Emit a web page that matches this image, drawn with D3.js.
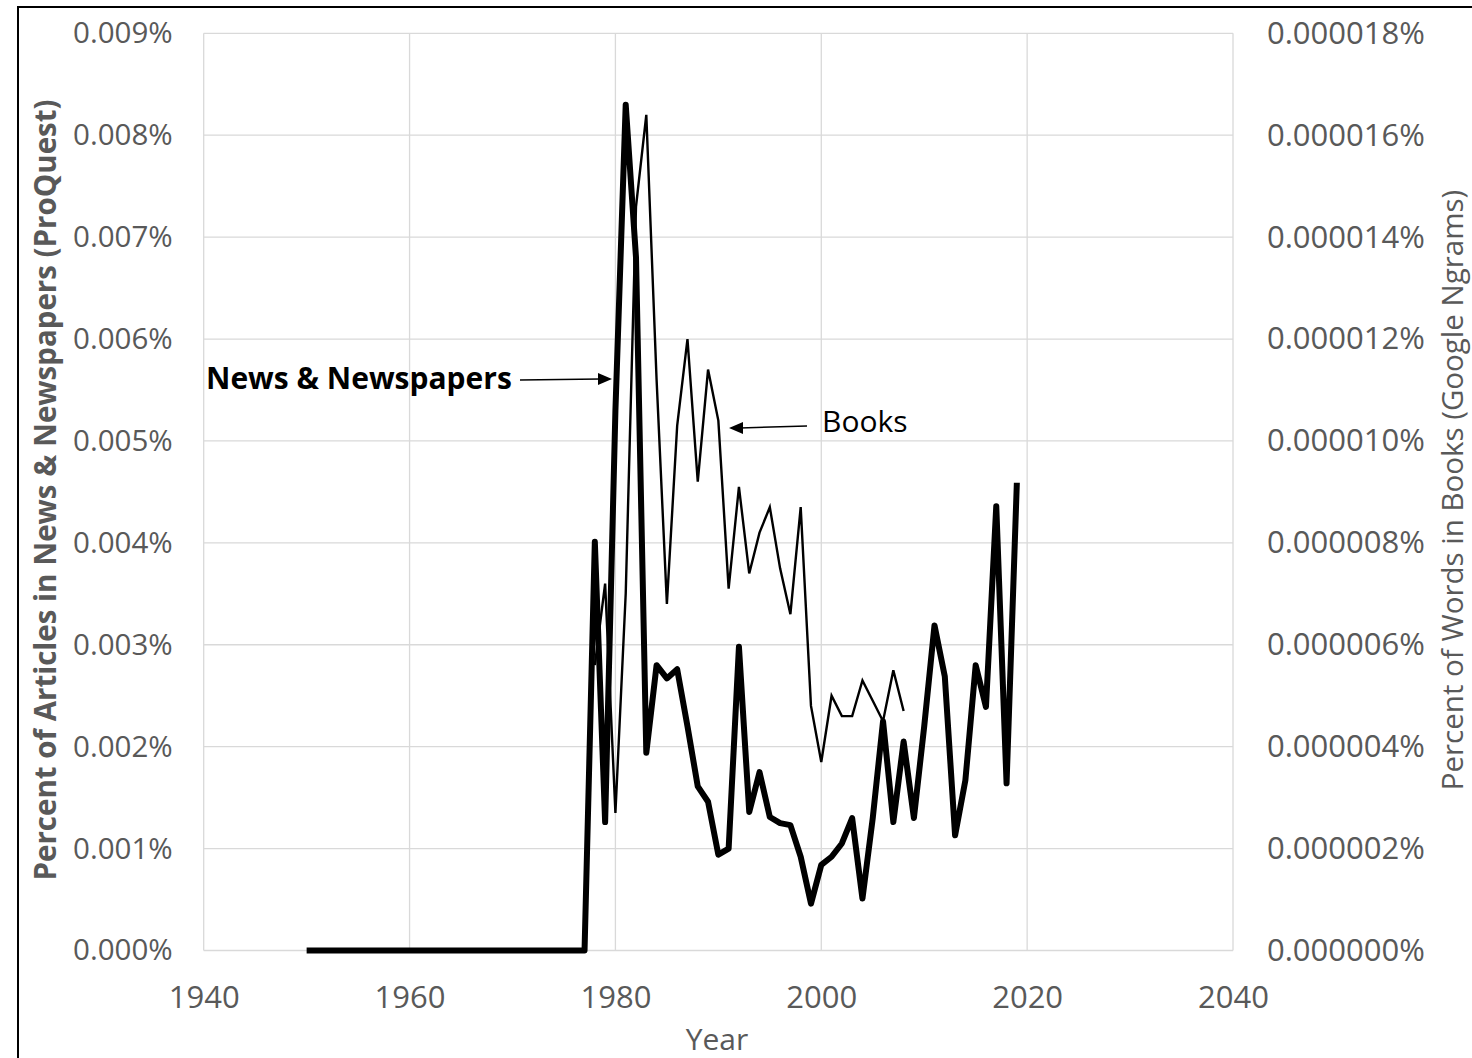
<!DOCTYPE html>
<html><head><meta charset="utf-8">
<script src="https://cdn.jsdelivr.net/npm/d3@7"></script>
<style>html,body{margin:0;padding:0;background:#fff;}svg{display:block;}</style>
</head><body>
<svg id="chart" width="1472" height="1058"></svg>
<script>
// ---- data ----
const newsYears = d3.range(1950, 2020);
const newsValues = [
  0,0,0,0,0,0,0,0,0,0,      // 1950-1959
  0,0,0,0,0,0,0,0,0,0,      // 1960-1969
  0,0,0,0,0,0,0,0,          // 1970-1977
  0.00401,0.00126,          // 1978-1979
  0.0053,0.0083,0.0068,0.00194,0.0028,0.00267,0.00276,0.0022,0.00161,0.00146, // 1980-1989
  0.00094,0.0010,0.00298,0.00136,0.00175,0.00131,0.00125,0.00123,0.00092,0.00046, // 1990-1999
  0.00084,0.00092,0.00105,0.0013,0.00051,0.0013,0.00225,0.00126,0.00205,0.0013, // 2000-2009
  0.0022,0.00319,0.00269,0.00113,0.00167,0.0028,0.00239,0.00436,0.00164,0.00459  // 2010-2019
];
const bookYears = d3.range(1978, 2009);
const bookValues = [
  0.0000056,0.0000072,                                   // 1978-1979
  0.0000027,0.0000070,0.0000146,0.0000164,0.0000112,0.0000068,0.0000103,0.0000120,0.0000092,0.0000114, // 1980-1989
  0.0000104,0.0000071,0.0000091,0.0000074,0.0000082,0.0000087,0.0000075,0.0000066,0.0000087,0.0000048, // 1990-1999
  0.0000037,0.0000050,0.0000046,0.0000046,0.0000053,0.0000049,0.0000045,0.0000055,0.0000047            // 2000-2008
];
const xTicks = [1940, 1960, 1980, 2000, 2020, 2040];
const leftTicks = [0,0.001,0.002,0.003,0.004,0.005,0.006,0.007,0.008,0.009];
const rightTicks = [0,0.000002,0.000004,0.000006,0.000008,0.00001,0.000012,0.000014,0.000016,0.000018];
const leftTitle = "Percent of Articles in News & Newspapers (ProQuest)";
const rightTitle = "Percent of Words in Books (Google Ngrams)";
const xTitle = "Year";

// ---- layout ----
const svg = d3.select("#chart");
const FONT = "'Open Sans', 'Noto Sans', sans-serif";
const GREY = "#595959";
const plot = {left: 203.7, right: 1233, top: 33.3, bottom: 950.5};

svg.append("rect").attr("x", 18).attr("y", 7).attr("width", 1500).attr("height", 1100)
  .attr("fill", "#fff").attr("stroke", "#000").attr("stroke-width", 2);

const x = d3.scaleLinear().domain([1940, 2040]).range([plot.left, plot.right]);
const yL = d3.scaleLinear().domain([0, 0.009]).range([plot.bottom, plot.top]);
const yR = d3.scaleLinear().domain([0, 0.000018]).range([plot.bottom, plot.top]);

// gridlines
const grid = svg.append("g");
grid.selectAll("line.h").data(leftTicks).join("line")
  .attr("x1", plot.left).attr("x2", plot.right)
  .attr("y1", d => yL(d)).attr("y2", d => yL(d))
  .attr("stroke", "#d9d9d9").attr("stroke-width", 1.3);
grid.selectAll("line.v").data(xTicks).join("line")
  .attr("x1", d => x(d)).attr("x2", d => x(d))
  .attr("y1", plot.top).attr("y2", plot.bottom)
  .attr("stroke", "#d9d9d9").attr("stroke-width", 1.3);

// axes
const axB = svg.append("g").attr("transform", `translate(0,${plot.bottom})`)
  .call(d3.axisBottom(x).tickValues(xTicks).tickFormat(d3.format("d")).tickSize(0).tickPadding(32));
const axL = svg.append("g").attr("transform", `translate(${plot.left},0)`)
  .call(d3.axisLeft(yL).tickValues(leftTicks).tickFormat(d => d3.format(".3f")(d) + "%").tickSize(0).tickPadding(31));
const axR = svg.append("g").attr("transform", `translate(${plot.right},0)`)
  .call(d3.axisRight(yR).tickValues(rightTicks).tickFormat(d => d3.format(".6f")(d) + "%").tickSize(0).tickPadding(34));
[axB, axL, axR].forEach(a => {
  a.select(".domain").remove();
  a.selectAll("text").attr("font-family", FONT).attr("font-size", 30).attr("fill", GREY);
});
axL.selectAll("text").attr("font-size", 29.5);
axR.selectAll("text").attr("font-size", 31);
axB.selectAll("text").attr("dy", "0.35em").attr("y", 47).attr("font-size", 31);

// axis titles
svg.append("text").attr("transform", "translate(56,490) rotate(-90)")
  .attr("text-anchor", "middle").attr("font-family", FONT).attr("font-weight", "bold")
  .attr("font-size", 29.5).attr("fill", GREY).text(leftTitle);
svg.append("text").attr("transform", "translate(1463,490) rotate(-90)")
  .attr("text-anchor", "middle").attr("font-family", FONT)
  .attr("font-size", 29.5).attr("fill", GREY).text(rightTitle);
svg.append("text").attr("x", 717).attr("y", 1050)
  .attr("text-anchor", "middle").attr("font-family", FONT)
  .attr("font-size", 30).attr("fill", GREY).text(xTitle);

// lines
const newsData = newsYears.map((yr, i) => ({yr, v: newsValues[i]}));
const bookData = bookYears.map((yr, i) => ({yr, v: bookValues[i]}));
svg.append("path").datum(bookData)
  .attr("fill", "none").attr("stroke", "#000").attr("stroke-width", 2.4).attr("stroke-linejoin", "miter")
  .attr("d", d3.line().x(d => x(d.yr)).y(d => yR(d.v)));
svg.append("path").datum(newsData)
  .attr("fill", "none").attr("stroke", "#000").attr("stroke-width", 6).attr("stroke-linejoin", "round")
  .attr("d", d3.line().x(d => x(d.yr)).y(d => yL(d.v)));

// annotations
svg.append("text").attr("x", 206).attr("y", 389).attr("font-family", FONT).attr("font-weight", "bold")
  .attr("font-size", 30).attr("fill", "#000").text("News & Newspapers");
svg.append("line").attr("x1", 520).attr("y1", 380).attr("x2", 600).attr("y2", 379)
  .attr("stroke", "#000").attr("stroke-width", 1.5);
svg.append("path").attr("d", "M612,379 L598,373 L598,385 Z").attr("fill", "#000");

svg.append("text").attr("x", 822).attr("y", 432).attr("font-family", FONT)
  .attr("font-size", 30).attr("fill", "#000").text("Books");
svg.append("line").attr("x1", 807).attr("y1", 426).attr("x2", 740).attr("y2", 428)
  .attr("stroke", "#000").attr("stroke-width", 1.5);
svg.append("path").attr("d", "M729,428 L743,422 L743,434 Z").attr("fill", "#000");
</script>
</body></html>
